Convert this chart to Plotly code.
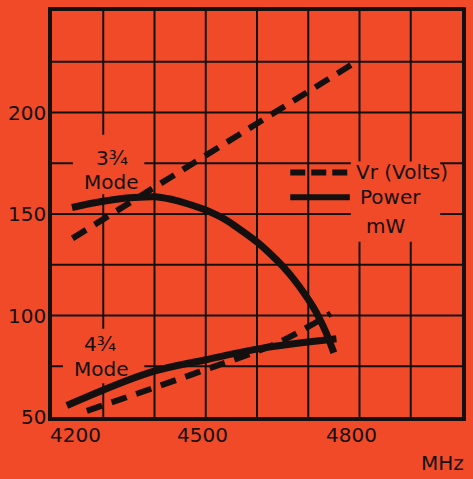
import plotly.graph_objects as go

# Frequency sweep (MHz) and measured responses for the two reflex-klystron modes
mode34_vr_freq = [4240, 4603, 4787]
mode34_vr = [138, 195.5, 224]

mode34_pwr_freq = [4239, 4270, 4300, 4330, 4360, 4400, 4430, 4452, 4475, 4500, 4522,
                   4545, 4570, 4600, 4625, 4650, 4672, 4696, 4710, 4721, 4735, 4750]
mode34_pwr = [153.2, 154.9, 156.3, 157.4, 158.1, 158.5, 157.4, 156.0, 154.2, 152.0, 149.4,
              146.2, 141.8, 136.2, 130.6, 124.3, 117.8, 109.5, 104.0, 99.0, 91.5, 81.7]

mode44_vr_freq = [4268, 4487, 4640, 4744]
mode44_vr = [53, 72.2, 86.5, 101]

mode44_pwr_freq = [4229, 4390, 4500, 4608, 4755]
mode44_pwr = [55.7, 71.9, 78.2, 83.8, 88.5]

x_ticks = [4200, 4500, 4800]
y_ticks = [50, 100, 150, 200]
x_grid = [4300, 4400, 4500, 4600, 4700, 4800, 4900]
y_grid = [75, 100, 125, 150, 175, 200, 225]

BG = "#F04A28"
INK = "#141010"
FONT = "DejaVu Sans"
FS = 20

W, H = 473, 479
L, R, T, B = 52, 465, 7, 417


def px(x):
    return (x - L) / (R - L)


def py(y):
    return (B - y) / (B - T)


fig = go.Figure()

dash = "16px,10px"
fig.add_trace(go.Scatter(x=mode34_vr_freq, y=mode34_vr, mode="lines",
                         line=dict(color=INK, width=6, dash=dash), showlegend=False))
fig.add_trace(go.Scatter(x=mode34_pwr_freq, y=mode34_pwr, mode="lines",
                         line=dict(color=INK, width=7, shape="spline", smoothing=0.6),
                         showlegend=False))
fig.add_trace(go.Scatter(x=mode44_vr_freq, y=mode44_vr, mode="lines",
                         line=dict(color=INK, width=6, dash=dash, shape="spline", smoothing=1.0),
                         showlegend=False))
fig.add_trace(go.Scatter(x=mode44_pwr_freq, y=mode44_pwr, mode="lines",
                         line=dict(color=INK, width=7, shape="spline", smoothing=1.0),
                         showlegend=False))

shapes = []
# grid drawn as shapes so the label patches can sit on top of it
for gx in x_grid:
    shapes.append(dict(type="line", xref="x", yref="paper", x0=gx, x1=gx, y0=0, y1=1,
                       layer="below", line=dict(color=INK, width=2)))
for gy in y_grid:
    shapes.append(dict(type="line", xref="paper", yref="y", x0=0, x1=1, y0=gy, y1=gy,
                       layer="below", line=dict(color=INK, width=2)))
# label backgrounds that break the grid
for x0, y0, x1, y1 in [(73, 132, 145, 192), (63, 328, 145, 383), (353, 159, 443, 240)]:
    shapes.append(dict(type="rect", xref="paper", yref="paper", layer="below",
                       x0=px(x0), x1=px(x1), y0=py(y1), y1=py(y0),
                       fillcolor=BG, line=dict(width=0)))
# legend keys
shapes.append(dict(type="line", xref="paper", yref="paper", x0=px(292), x1=px(352),
                   y0=py(170), y1=py(170), line=dict(color=INK, width=6, dash="15px,6px")))
shapes.append(dict(type="line", xref="paper", yref="paper", x0=px(292), x1=px(352),
                   y0=py(195), y1=py(195), line=dict(color=INK, width=6)))

annotations = []


def note(text, x, y, anchor="center"):
    annotations.append(dict(text=text, xref="paper", yref="paper", x=px(x), y=py(y),
                            xanchor=anchor, yanchor="middle", showarrow=False,
                            font=dict(family=FONT, size=FS, color=INK)))


note("3¾", 112, 155)
note("Mode", 112, 180)
note("4¾", 100, 343)
note("Mode", 102, 369)
note("Vr (Volts)", 356, 170, "left")
note("Power", 360, 195, "left")
note("mW", 388, 224)
note("MHz", 469, 463, "right")

# frequency tick labels
for v, shift in zip(x_ticks, [23, -3, -8]):
    annotations.append(dict(text=str(v), xref="x", yref="paper", x=v, y=0,
                            xshift=shift, yshift=-18, xanchor="center", yanchor="middle",
                            showarrow=False, font=dict(family=FONT, size=FS, color=INK)))
# level tick labels
for v in y_ticks:
    annotations.append(dict(text=str(v), xref="paper", yref="y", x=0, y=v,
                            xshift=-4, xanchor="right", yanchor="middle",
                            showarrow=False, font=dict(family=FONT, size=FS, color=INK)))

fig.update_layout(
    width=W, height=H,
    margin=dict(l=L, r=W - R, t=T, b=H - B),
    paper_bgcolor=BG, plot_bgcolor=BG,
    shapes=shapes, annotations=annotations,
    showlegend=False,
)
fig.update_xaxes(range=[4200, 5000], showticklabels=False, showgrid=False, zeroline=False,
                 showline=True, linecolor=INK, linewidth=4, mirror=True, ticks="")
fig.update_yaxes(range=[50, 250], showticklabels=False, showgrid=False, zeroline=False,
                 showline=True, linecolor=INK, linewidth=4, mirror=True, ticks="")

fig.write_html("out.html")
